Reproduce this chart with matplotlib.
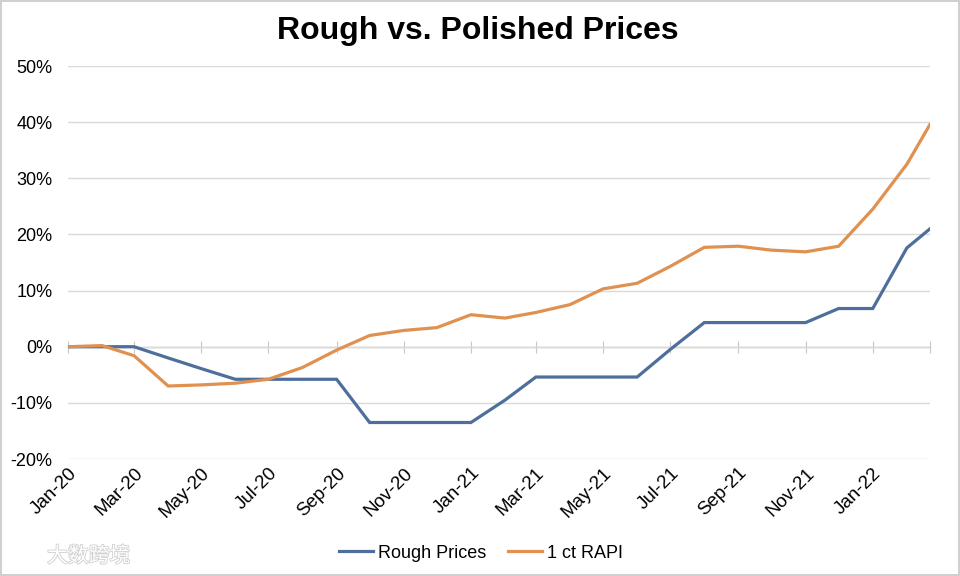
import matplotlib.pyplot as plt
import matplotlib.dates as mdates
import matplotlib.patheffects as pe
import pandas as pd

# monthly observations, last one is a partial month
dates = list(pd.date_range('2020-01-01', '2022-02-01', freq='MS')) + [pd.Timestamp('2022-02-22')]

rough_prices = [0.0, 0.0, 0.0, -2.0, -3.9, -5.8, -5.8, -5.8, -5.8, -13.5, -13.5, -13.5,
                -13.5, -9.5, -5.4, -5.4, -5.4, -5.4, -0.5, 4.3, 4.3, 4.3, 4.3, 6.8,
                6.8, 17.6, 21.0]
rapi_1ct = [0.0, 0.2, -1.6, -7.0, -6.8, -6.5, -5.8, -3.7, -0.6, 2.0, 2.9, 3.4,
            5.7, 5.1, 6.1, 7.5, 10.3, 11.3, 14.3, 17.7, 17.9, 17.2, 16.9, 17.9,
            24.5, 32.5, 39.6]

series_names = ['Rough Prices', '1 ct RAPI']
y_ticks = [-20, -10, 0, 10, 20, 30, 40, 50]

BLUE = '#4E6E9B'
ORANGE = '#E09150'
GRID = '#D9D9D9'

plt.rcParams['font.family'] = ['Liberation Sans', 'DejaVu Sans']

fig = plt.figure(figsize=(9.6, 5.76), dpi=100)
fig.patch.set_edgecolor('#D0D0D0')
fig.patch.set_linewidth(1.5)
ax = fig.add_axes([68 / 960, 1 - 459 / 576, (930 - 68) / 960, (459 - 66) / 576])

ax.plot(dates, rough_prices, color=BLUE, lw=2.3, label=series_names[0], solid_joinstyle='miter')
ax.plot(dates, rapi_1ct, color=ORANGE, lw=2.3, label=series_names[1], solid_joinstyle='miter')

ax.set_xlim(dates[0], dates[-1])
ax.set_ylim(y_ticks[0], y_ticks[-1])
ax.set_yticks(y_ticks)
ax.set_yticklabels([f'{v}%' for v in y_ticks])
ax.yaxis.grid(True, color=GRID, lw=1)
ax.set_axisbelow(True)
for s in ax.spines.values():
    s.set_visible(False)
ax.tick_params(axis='y', length=0, labelsize=13, pad=11)

tick_dates = pd.date_range('2020-01-01', '2022-01-01', freq='2MS')
ax.set_xticks(tick_dates)
ax.xaxis.set_major_formatter(mdates.DateFormatter('%b-%y'))
ax.tick_params(axis='x', length=0, labelsize=13.5, pad=4)
for lbl in ax.get_xticklabels():
    lbl.set_rotation(45)
    lbl.set_ha('right')
    lbl.set_rotation_mode('anchor')

# horizontal axis line at 0% with crossing tick marks
zero_pos = (0 - y_ticks[0]) / (y_ticks[-1] - y_ticks[0])
sec = ax.secondary_xaxis(zero_pos)
sec.set_xticks(list(tick_dates) + [dates[-1]])
sec.tick_params(axis='x', direction='inout', length=8, color='#C8C8C8', labelbottom=False)
sec.spines['bottom'].set_color('#C8C8C8')
sec.spines['bottom'].set_linewidth(1)

fig.text(0.498, 0.946, 'Rough vs. Polished Prices', ha='center', va='center',
         fontsize=23, fontweight='bold')

fig.legend(loc='center', bbox_to_anchor=(0.501, 1 - 553 / 576), ncol=2, frameon=False,
           fontsize=13, handlelength=1.9, handletextpad=0.25, columnspacing=1.2)

fig.text(47 / 960, 1 - 556 / 576, '大数跨境', ha='left', va='center', fontsize=15,
         color='white', family=['Noto Sans CJK SC', 'DejaVu Sans'],
         path_effects=[pe.withStroke(linewidth=1.2, foreground='#CFCFCF')])

fig.savefig('out.png', dpi=100)
